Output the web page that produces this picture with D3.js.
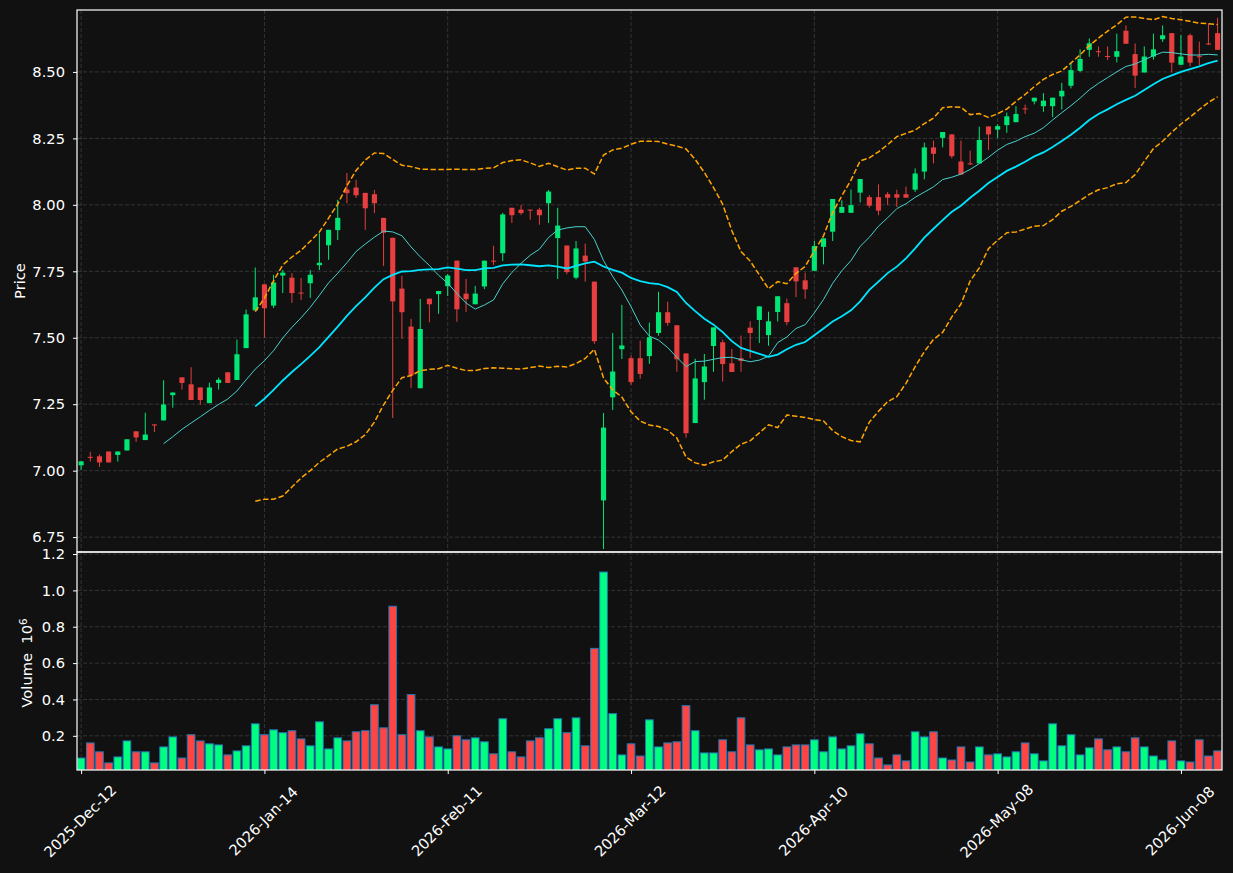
<!DOCTYPE html>
<html>
<head>
<meta charset="utf-8">
<script src="https://cdn.jsdelivr.net/npm/d3@7"></script>
<style>
body { margin: 0; background: #111; }
text { font-family: "DejaVu Sans", sans-serif; }
</style>
</head>
<body>
<div id="chart"></div>
<script>
// daily OHLC + volume (volume in millions)
const opens = [7.020,7.052,7.054,7.072,7.059,7.076,7.148,7.115,7.174,7.189,7.284,7.351,7.325,7.313,7.254,7.330,7.370,7.341,7.461,7.603,
  7.701,7.621,7.734,7.726,7.670,7.705,7.773,7.848,7.905,8.058,8.065,8.045,8.040,7.951,7.876,7.685,7.542,7.310,7.647,7.664,
  7.694,7.790,7.666,7.626,7.693,7.790,7.818,7.989,7.982,7.982,7.982,8.006,7.875,7.847,7.726,7.809,7.711,6.888,7.276,7.457,
  7.423,7.423,7.431,7.518,7.596,7.547,7.441,7.179,7.333,7.469,7.483,7.404,7.423,7.538,7.567,7.510,7.597,7.630,7.765,7.716,
  7.752,7.842,7.899,7.970,7.970,8.046,8.029,8.029,8.040,8.040,8.040,8.057,8.125,8.216,8.252,8.265,8.163,8.156,8.156,8.295,
  8.283,8.300,8.311,8.363,8.389,8.371,8.371,8.408,8.448,8.504,8.583,8.578,8.560,8.557,8.655,8.567,8.498,8.558,8.623,8.646,
  8.527,8.638,8.559,8.607,8.646]
const highs = [7.035,7.071,7.061,7.072,7.072,7.118,7.148,7.218,7.174,7.340,7.294,7.351,7.389,7.313,7.331,7.350,7.370,7.493,7.606,7.764,
  7.701,7.737,7.755,7.743,7.725,7.755,7.893,7.906,8.019,8.120,8.094,8.045,8.056,7.951,7.876,7.733,7.571,7.646,7.647,7.676,
  7.740,7.790,7.721,7.695,7.790,7.846,7.970,7.989,8.000,7.982,7.989,8.056,7.989,7.847,7.864,7.854,7.711,7.217,7.518,7.624,
  7.433,7.489,7.557,7.673,7.636,7.547,7.441,7.421,7.439,7.539,7.493,7.458,7.508,7.562,7.618,7.598,7.656,7.647,7.765,7.745,
  7.864,7.874,8.022,8.017,8.058,8.097,8.037,8.077,8.048,8.057,8.069,8.137,8.234,8.242,8.274,8.265,8.242,8.204,8.294,8.295,
  8.303,8.347,8.371,8.377,8.403,8.420,8.403,8.459,8.536,8.585,8.626,8.596,8.596,8.644,8.675,8.607,8.596,8.644,8.675,8.646,
  8.638,8.644,8.614,8.682,8.704]
const lows = [7.003,7.034,7.014,7.031,7.034,7.076,7.108,7.115,7.145,7.189,7.237,7.305,7.266,7.248,7.254,7.305,7.330,7.341,7.461,7.603,
  7.500,7.612,7.668,7.631,7.642,7.650,7.755,7.793,7.868,8.006,8.026,7.906,7.969,7.770,7.198,7.496,7.311,7.310,7.558,7.590,
  7.657,7.560,7.597,7.626,7.683,7.774,7.788,7.932,7.962,7.944,7.925,7.932,7.721,7.739,7.720,7.711,7.477,6.705,7.228,7.420,
  7.323,7.346,7.402,7.508,7.545,7.372,7.124,7.179,7.267,7.372,7.335,7.371,7.372,7.423,7.481,7.470,7.561,7.547,7.653,7.646,
  7.752,7.776,7.864,7.970,7.970,8.009,7.989,7.961,7.999,7.992,8.027,8.048,8.096,8.156,8.216,8.175,8.114,8.150,8.156,8.206,
  8.252,8.271,8.311,8.342,8.378,8.350,8.330,8.359,8.438,8.499,8.557,8.557,8.545,8.536,8.606,8.439,8.498,8.546,8.613,8.498,
  8.527,8.521,8.526,8.601,8.583]
const closes = [7.035,7.050,7.031,7.031,7.072,7.118,7.125,7.136,7.170,7.249,7.294,7.330,7.266,7.266,7.313,7.342,7.330,7.438,7.588,7.652,
  7.611,7.708,7.745,7.668,7.668,7.737,7.782,7.906,7.951,8.044,8.036,7.987,8.006,7.895,7.637,7.596,7.359,7.533,7.626,7.676,
  7.734,7.607,7.645,7.666,7.790,7.788,7.964,7.961,7.969,7.980,7.961,8.050,7.922,7.747,7.836,7.787,7.487,7.162,7.373,7.471,
  7.333,7.364,7.502,7.596,7.556,7.419,7.141,7.347,7.392,7.539,7.401,7.371,7.413,7.518,7.618,7.562,7.656,7.559,7.712,7.682,
  7.845,7.874,8.022,7.992,7.999,8.097,7.997,7.978,8.027,8.027,8.027,8.118,8.216,8.192,8.274,8.183,8.114,8.154,8.244,8.265,
  8.296,8.333,8.342,8.361,8.403,8.392,8.403,8.429,8.507,8.549,8.608,8.576,8.558,8.578,8.606,8.486,8.558,8.585,8.638,8.535,
  8.558,8.535,8.557,8.605,8.583]
const volumes = [0.078,0.161,0.112,0.051,0.084,0.172,0.112,0.112,0.051,0.139,0.194,0.078,0.206,0.172,0.156,0.150,0.095,0.117,0.145,0.266,
  0.206,0.233,0.217,0.228,0.183,0.145,0.277,0.128,0.189,0.172,0.222,0.228,0.371,0.244,0.913,0.206,0.427,0.228,0.194,0.139,
  0.128,0.200,0.178,0.189,0.167,0.101,0.294,0.112,0.084,0.172,0.189,0.239,0.294,0.217,0.299,0.145,0.681,1.101,0.322,0.095,
  0.156,0.089,0.288,0.139,0.161,0.167,0.366,0.228,0.106,0.106,0.178,0.112,0.299,0.150,0.123,0.128,0.095,0.139,0.150,0.150,
  0.178,0.112,0.194,0.128,0.145,0.211,0.156,0.078,0.040,0.095,0.062,0.222,0.194,0.222,0.078,0.067,0.139,0.056,0.139,0.095,
  0.101,0.084,0.112,0.161,0.101,0.062,0.266,0.145,0.206,0.095,0.134,0.183,0.123,0.139,0.112,0.189,0.139,0.089,0.067,0.172,
  0.062,0.056,0.178,0.089,0.117]

const tickIdx = [0, 20, 40, 60, 80, 100, 120]
const tickLabels = ["2025-Dec-12", "2026-Jan-14", "2026-Feb-11", "2026-Mar-12", "2026-Apr-10", "2026-May-08", "2026-Jun-08"]
const priceTicks = [6.75, 7.00, 7.25, 7.50, 7.75, 8.00, 8.25, 8.50]
const volTicks = [0.2, 0.4, 0.6, 0.8, 1.0, 1.2]

const width = 1233
const height = 873
const pLeft = 77, pRight = 1222, pTop = 10, pMid = 552, pBottom = 770
const fontSize = "14.67px"

const upColor = "#00ff80"
const downColor = "#ff4444"

const data = closes.map((c, i) => ({ i, o: opens[i], h: highs[i], l: lows[i], c, v: volumes[i] }))

// rolling indicators from the closes
const rolling = (n, fn) => closes.map((c, i) => i < n - 1 ? null : fn(closes.slice(i - n + 1, i + 1)))
const ma10 = rolling(10, d3.mean)
const ma20 = rolling(20, d3.mean)
const sd20 = rolling(20, d3.deviation)
const bbUp = ma20.map((m, i) => m == null ? null : m + 2 * sd20[i])
const bbLo = ma20.map((m, i) => m == null ? null : m - 2 * sd20[i])

const svg = d3.select("#chart")
  .append("svg")
  .attr("width", width)
  .attr("height", height)
  .style("background-color", "#111")

const x = d3.scaleLinear().domain([-0.45, 124.48]).range([pLeft, pRight])
const step = x(1) - x(0)
const y = d3.scaleLinear().domain([6.694, 8.733]).range([pMid, pTop])
const yv = d3.scaleLinear().domain([0.3 * d3.min(volumes), 1.1 * d3.max(volumes)]).range([pBottom, pMid])

// grid
const grid = svg.append("g")
  .attr("stroke", "#3d3d3d")
  .attr("stroke-width", 0.8)
  .attr("stroke-dasharray", "4,2")
grid.selectAll(".gx").data(tickIdx).enter().append("line")
  .attr("x1", d => x(d)).attr("x2", d => x(d))
  .attr("y1", pTop).attr("y2", pBottom)
grid.selectAll(".gy").data(priceTicks).enter().append("line")
  .attr("x1", pLeft).attr("x2", pRight)
  .attr("y1", d => y(d)).attr("y2", d => y(d))
grid.selectAll(".gv").data(volTicks).enter().append("line")
  .attr("x1", pLeft).attr("x2", pRight)
  .attr("y1", d => yv(d)).attr("y2", d => yv(d))

// volume bars
svg.append("defs").append("clipPath").attr("id", "volclip")
  .append("rect").attr("x", pLeft).attr("y", pMid).attr("width", pRight - pLeft).attr("height", pBottom - pMid)

svg.append("g").attr("clip-path", "url(#volclip)")
  .selectAll("rect").data(data).enter().append("rect")
  .attr("x", d => x(d.i) - step * 0.42)
  .attr("width", step * 0.84)
  .attr("y", d => yv(d.v))
  .attr("height", d => pBottom + 2 - yv(d.v))
  .attr("fill", d => d.c >= d.o ? upColor : downColor)
  .attr("stroke", "#1f77b4")
  .attr("stroke-width", 1)

// candles
const candles = svg.append("g").attr("opacity", 0.9)
candles.selectAll("line").data(data).enter().append("line")
  .attr("x1", d => x(d.i)).attr("x2", d => x(d.i))
  .attr("y1", d => y(d.h)).attr("y2", d => y(d.l))
  .attr("stroke", d => d.c >= d.o ? upColor : downColor)
  .attr("stroke-width", 1)
candles.selectAll("rect").data(data).enter().append("rect")
  .attr("x", d => x(d.i) - step * 0.28)
  .attr("width", step * 0.56)
  .attr("y", d => y(Math.max(d.o, d.c)))
  .attr("height", d => Math.max(1, Math.abs(y(d.o) - y(d.c))))
  .attr("fill", d => d.c >= d.o ? upColor : downColor)

// indicator lines
const line = d3.line().defined(d => d != null).x((d, i) => x(i)).y(d => y(d))
svg.append("path").datum(ma10).attr("d", line)
  .attr("fill", "none").attr("stroke", "#48d1cc").attr("stroke-width", 1)
svg.append("path").datum(ma20).attr("d", line)
  .attr("fill", "none").attr("stroke", "#00e5ff").attr("stroke-width", 1.8)
;[bbUp, bbLo].forEach(band => {
  svg.append("path").datum(band).attr("d", line)
    .attr("fill", "none").attr("stroke", "#ffa500").attr("stroke-width", 1.5)
    .attr("stroke-dasharray", "5.5,2.4")
})

// axes
const priceAxis = d3.axisLeft(y).tickValues(priceTicks).tickFormat(d3.format(".2f")).tickSize(4).tickPadding(8)
const volAxis = d3.axisLeft(yv).tickValues(volTicks).tickFormat(d3.format(".1f")).tickSize(4).tickPadding(8)
const xAxis = d3.axisBottom(x).tickValues(tickIdx).tickFormat((d, i) => tickLabels[i]).tickSize(4)

const styleAxis = g => {
  g.select(".domain").remove()
  g.selectAll("line").attr("stroke", "#fff")
  g.selectAll("text").attr("fill", "#fff").style("font-size", fontSize).style("font-family", "DejaVu Sans")
}

svg.append("g").attr("transform", `translate(${pLeft},0)`).call(priceAxis).call(styleAxis)
svg.append("g").attr("transform", `translate(${pLeft},0)`).call(volAxis).call(styleAxis)
svg.append("g").attr("transform", `translate(0,${pBottom})`).call(xAxis).call(styleAxis)
  .selectAll("text")
  .attr("y", 0)
  .attr("dy", "0.35em")
  .attr("text-anchor", "middle")
  .attr("transform", "translate(-1.5,51) rotate(-45)")

// panel frames
svg.append("rect").attr("x", pLeft).attr("y", pTop).attr("width", pRight - pLeft).attr("height", pMid - pTop)
  .attr("fill", "none").attr("stroke", "#fff").attr("stroke-width", 1.2)
svg.append("rect").attr("x", pLeft).attr("y", pMid).attr("width", pRight - pLeft).attr("height", pBottom - pMid)
  .attr("fill", "none").attr("stroke", "#fff").attr("stroke-width", 1.2)

// axis titles
svg.append("text").attr("transform", `translate(25,${(pTop + pMid) / 2}) rotate(-90)`)
  .attr("text-anchor", "middle").attr("fill", "#fff").style("font-size", fontSize)
  .text("Price")
const vt = svg.append("text").attr("transform", `translate(32,${(pMid + pBottom) / 2 + 2}) rotate(-90)`)
  .attr("text-anchor", "middle").attr("fill", "#fff").style("font-size", fontSize)
  .style("white-space", "pre")
vt.append("tspan").text("Volume  10")
vt.append("tspan").attr("dy", "-0.5em").style("font-size", "10.3px").text("6")
</script>
</body>
</html>
